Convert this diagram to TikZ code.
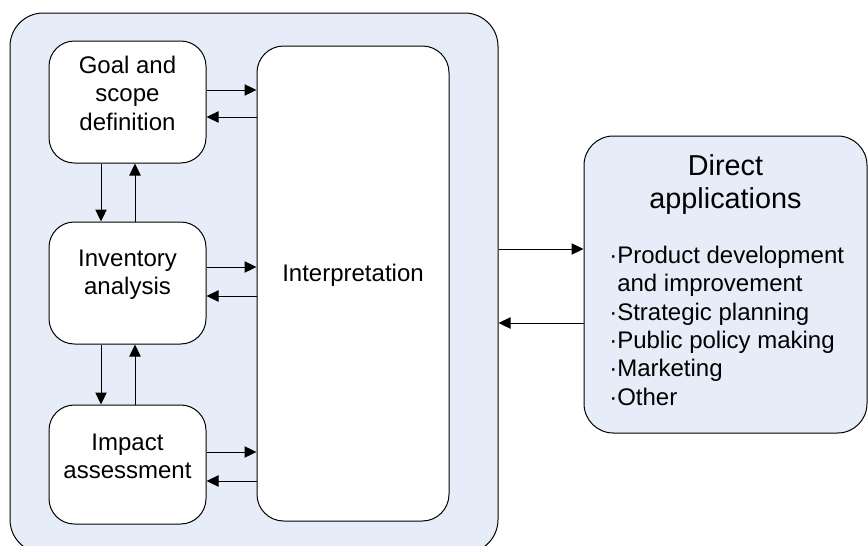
\documentclass[tikz,border=0pt]{standalone}
\usepackage{fontspec}
\setmainfont{Liberation Sans}
\usetikzlibrary{arrows.meta,fit}

\definecolor{panel}{RGB}{231,237,248}

\begin{document}
\begin{tikzpicture}[x=0.75pt,y=-0.75pt,
    box/.style={draw, fill=white, line width=0.75pt, rounded corners=19pt,
        inner sep=0pt, align=center, font=\fontsize{18}{21.2}\selectfont},
    link/.style={-{Triangle[length=9pt,width=8.5pt]}, line width=0.75pt}]

    % 範囲
    \useasboundingbox (0,0) rectangle (868,546);

    % 枠の描画
    \node[box, fill=panel, rounded corners=25pt, fit={(10,13) (498,553)}] (stages) {};
    \node[box, fit={(49,41) (206,163)}] (goal) {Goal and\\scope\\definition};
    \node[box, fit={(49,222) (206,344)}] (inv) {Inventory\\analysis};
    \node[box, fit={(49,405) (206,524)}] (imp) {Impact\\assessment};
    \node[box, rounded corners=20pt, fit={(257,46) (449,521)}] (interp) {Interpretation};
    \node[box, fill=panel, rounded corners=22pt, fit={(584,136) (867,433)}] (direct) {};

    % テキスト (base は最終行)
    \node[anchor=base, align=center, inner sep=0pt,
        font=\fontsize{21.6}{24.75}\selectfont] (dtitle) at (725.5,208) {Direct\\applications};
    \node[anchor=base west, align=left, inner sep=0pt,
        font=\fontsize{18}{21.2}\selectfont] (dlist) at (609,405)
        {·Product development\\\phantom{·}and improvement\\·Strategic planning\\·Public policy making\\·Marketing\\·Other};

    % 矢印の位置
    \coordinate (r1) at (0,90);
    \coordinate (l1) at (0,117);
    \coordinate (r2) at (0,267);
    \coordinate (l2) at (0,296);
    \coordinate (r3) at (0,452);
    \coordinate (l3) at (0,481);
    \coordinate (r4) at (0,249);
    \coordinate (l4) at (0,323);
    \coordinate (dn) at (101,0);
    \coordinate (up) at (135,0);

    % 矢印の描画
    \draw [link] (goal.east |- r1) -- (interp.west |- r1);
    \draw [link] (interp.west |- l1) -- (goal.east |- l1);
    \draw [link] (inv.east |- r2) -- (interp.west |- r2);
    \draw [link] (interp.west |- l2) -- (inv.east |- l2);
    \draw [link] (imp.east |- r3) -- (interp.west |- r3);
    \draw [link] (interp.west |- l3) -- (imp.east |- l3);
    \draw [link] (goal.south -| dn) -- (inv.north -| dn);
    \draw [link] (inv.north -| up) -- (goal.south -| up);
    \draw [link] (inv.south -| dn) -- (imp.north -| dn);
    \draw [link] (imp.north -| up) -- (inv.south -| up);
    \draw [link] (stages.east |- r4) -- (direct.west |- r4);
    \draw [link] (direct.west |- l4) -- (stages.east |- l4);

\end{tikzpicture}
\end{document}
